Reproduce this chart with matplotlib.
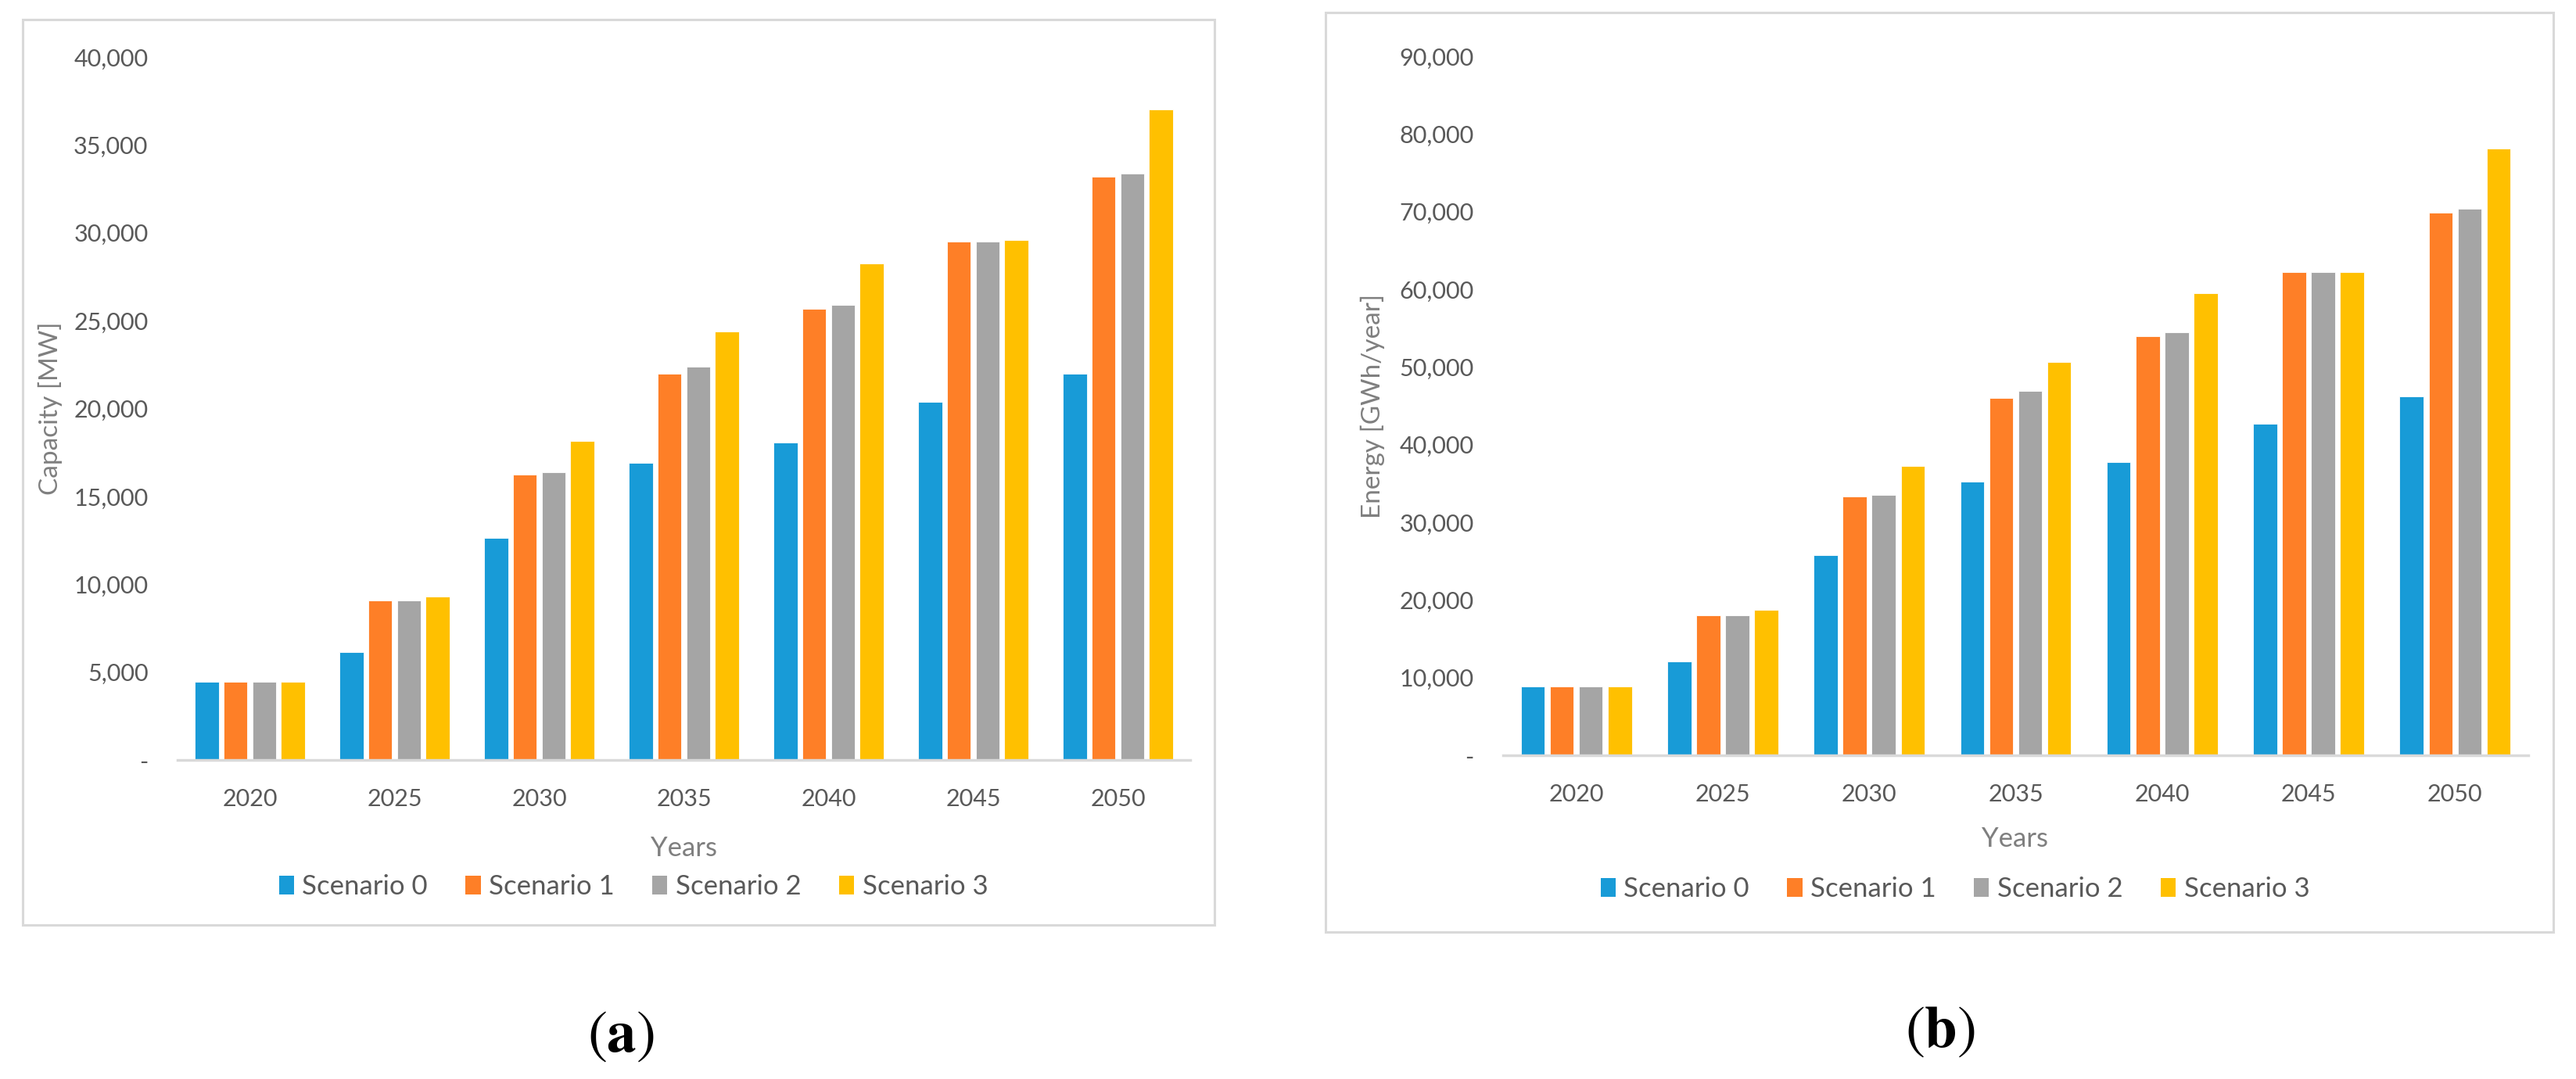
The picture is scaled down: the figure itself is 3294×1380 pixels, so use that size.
import numpy as np
import matplotlib.pyplot as plt
from matplotlib.patches import Rectangle, Patch
from matplotlib.ticker import FuncFormatter

# data
years = ["2020", "2025", "2030", "2035", "2040", "2045", "2050"]
scenarios = ["Scenario 0", "Scenario 1", "Scenario 2", "Scenario 3"]

# (a) installed capacity [MW]
cap_s0 = [4470, 6160, 12620, 16900, 18070, 20380, 21980]
cap_s1 = [4470, 9060, 16220, 21980, 25670, 29510, 33200]
cap_s2 = [4470, 9060, 16380, 22400, 25890, 29510, 33380]
cap_s3 = [4470, 9320, 18150, 24400, 28270, 29580, 37030]

# (b) energy [GWh/year]
en_s0 = [8860, 12100, 25800, 35200, 37800, 42700, 46200]
en_s1 = [8860, 18000, 33300, 46000, 54000, 62200, 69900]
en_s2 = [8860, 18000, 33500, 46900, 54500, 62200, 70400]
en_s3 = [8860, 18700, 37200, 50600, 59500, 62200, 78100]

colors = ["#189bd7", "#fe7f27", "#a5a5a5", "#ffc000"]
text_grey = "#595959"
frame_grey = "#d9d9d9"

plt.rcParams['font.family'] = ['Lato', 'DejaVu Sans']
plt.rcParams['mathtext.fontset'] = 'stix'

W, H = 3294, 1380
fig = plt.figure(figsize=(W / 100, H / 100), dpi=100)


def px_box(left, right, top, bottom):
    # pixel box -> figure fraction [l, b, w, h]
    return [left / W, (H - bottom) / H, (right - left) / W, (bottom - top) / H]


def dash_zero(v, pos):
    if abs(v) < 1e-9:
        return "-"
    return "{:,.0f}".format(v)


def draw_panel(box, series, ymax, ystep, ylabel, ylab_xy, xlab_xy, leg_xy, tag_xy, tag):
    ax = fig.add_axes(box)
    x = np.arange(len(years))
    step = 0.198
    width = 0.163
    for i, vals in enumerate(series):
        ax.bar(x + (i - 1.5) * step, vals, width=width, color=colors[i],
               edgecolor="white", linewidth=0.6, zorder=2)
    ax.set_xlim(-0.5, len(years) - 0.5)
    ax.set_ylim(0, ymax)
    ax.set_yticks(np.arange(0, ymax + 1, ystep))
    ax.yaxis.set_major_formatter(FuncFormatter(dash_zero))
    ax.set_xticks(x)
    ax.set_xticklabels(years)
    ax.tick_params(axis='both', length=0, labelsize=22, colors=text_grey)
    ax.tick_params(axis='y', pad=27)
    ax.tick_params(axis='x', pad=26)
    for s in ["top", "right", "left"]:
        ax.spines[s].set_visible(False)
    ax.spines["bottom"].set_color(frame_grey)
    ax.spines["bottom"].set_linewidth(2.5)
    ax.spines["bottom"].set_zorder(3)

    fig.text(ylab_xy[0] / W, 1 - ylab_xy[1] / H, ylabel, rotation=90,
             ha="center", va="center", fontsize=24, color="#7f7f7f")
    fig.text(xlab_xy[0] / W, 1 - xlab_xy[1] / H, "Years",
             ha="center", va="center", fontsize=25, color="#7f7f7f")

    handles = [Patch(facecolor=c, edgecolor="none") for c in colors]
    fig.legend(handles, scenarios, loc="center",
               bbox_to_anchor=(leg_xy[0] / W, 1 - leg_xy[1] / H),
               ncol=4, frameon=False, fontsize=25, labelcolor=text_grey,
               handlelength=0.55, handleheight=0.7, handletextpad=0.3,
               columnspacing=1.4)

    fig.text(tag_xy[0] / W, 1 - tag_xy[1] / H, r"$(\mathbf{" + tag + "})$",
             ha="center", va="center", fontsize=54, color="black")
    return ax


# chart frames (light grey borders round each Excel chart)
fig.patches.append(Rectangle((29 / W, (H - 1183) / H), (1553 - 29) / W, (1183 - 25) / H,
                             transform=fig.transFigure, fill=False,
                             edgecolor=frame_grey, linewidth=2.2))
fig.patches.append(Rectangle((1695 / W, (H - 1192) / H), (3265 - 1695) / W, (1192 - 16) / H,
                             transform=fig.transFigure, fill=False,
                             edgecolor=frame_grey, linewidth=2.2))

draw_panel(px_box(227, 1522, 73, 972), [cap_s0, cap_s1, cap_s2, cap_s3],
           40000, 5000, "Capacity [MW]", (64, 522), (874, 1085), (810, 1134),
           (794, 1325), "a")
draw_panel(px_box(1922, 3233, 72, 966), [en_s0, en_s1, en_s2, en_s3],
           90000, 10000, "Energy [GWh/year]", (1755, 519), (2577, 1073), (2500, 1137),
           (2481, 1320), "b")

fig.savefig("out.png", dpi=100, facecolor="white")
